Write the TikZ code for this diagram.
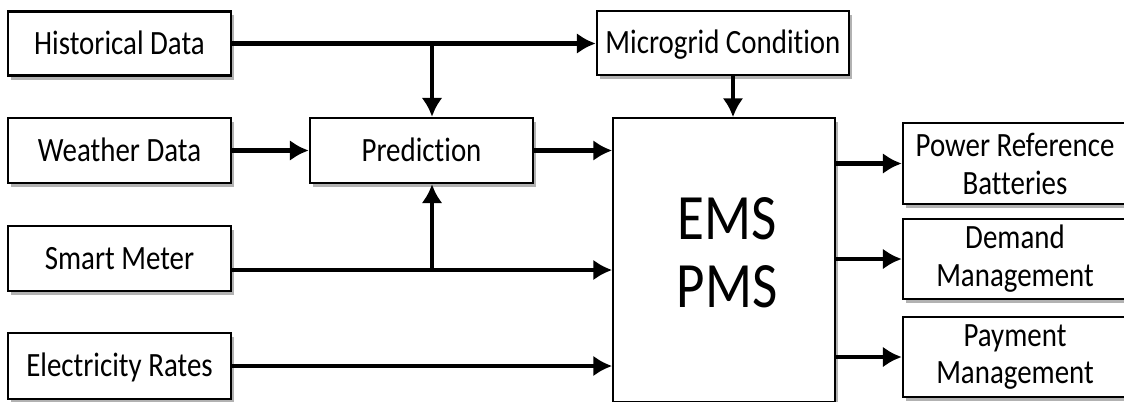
\documentclass[tikz,border=0pt]{standalone}
\usepackage{fontspec}
\setmainfont{Carlito}[FakeStretch=0.85, RawFeature={-liga;-clig;-calt;-dlig}]
\usetikzlibrary{arrows.meta,shadows}
\tikzset{
    blk/.style={draw, line width=1.7pt, fill=white, inner sep=0pt, align=center,
        minimum width=5.575cm, minimum height=1.6cm, font=\fontsize{24.2}{27}\selectfont,
        drop shadow={shadow xshift=0.07cm, shadow yshift=-0.1cm, fill=black, opacity=0.3}},
    oneline/.style={text height=18pt, text depth=2.6pt},
    flow/.style={-{Latex[length=0.47cm, width=0.52cm]}, line width=3.3pt},
}
\begin{document}
\begin{tikzpicture}[x=0.025cm, y=-0.025cm]
        \useasboundingbox (0,0) rectangle (1124,401);
        \fill[white] (0,0) rectangle (1124,401);
        \node[blk, oneline] (hist) at (119.5,43.5) {Historical Data};
        \node[blk, oneline, minimum height=1.625cm] (weather) at (119.5,150.5) {Weather Data};
        \node[blk, oneline, minimum height=1.625cm] (smart) at (119.5,258.5) {Smart Meter};
        \node[blk, oneline, minimum height=1.65cm] (rates) at (119.5,366) {Electricity Rates};
        \node[blk, oneline, minimum height=1.625cm] (pred) at (421.5,150.5) {Prediction};
        \node[blk, oneline, minimum width=6.3cm] (micro) at (723,43) {Microgrid Condition};
        \node[blk, line width=1.2pt, minimum width=5.55cm, minimum height=7.1cm] (ems) at (724,260) {};
        \node[font=\fontsize{46}{48.5}\selectfont, align=center, inner sep=0pt] (emstxt) at (727,253) {EMS\\PMS};
        \node[blk, minimum width=5.6cm, minimum height=2.025cm] (pwr) at (1015,163.5) {Power Reference\\Batteries};
        \node[blk, minimum width=5.6cm, minimum height=2cm] (dem) at (1015,259) {Demand\\Management};
        \node[blk, minimum width=5.6cm, minimum height=2cm] (pay) at (1015,357) {Payment\\Management};
        \coordinate (htap) at (432,43.5);
        \coordinate (stap) at (432,270);
        \coordinate (mtap) at (733,75);
        \draw[flow] (hist.east) -- (hist.east -| micro.west);
        \draw[flow] (htap) -- (htap |- pred.north);
        \draw[flow] (weather.east) -- (pred.west);
        \draw[flow] (pred.east) -- (pred.east -| ems.west);
        \draw[flow] (micro.south -| mtap) -- (ems.north -| mtap);
        \draw[flow] (smart.east |- stap) -- (stap -| ems.west);
        \draw[flow] (stap) -- (stap |- pred.south);
        \draw[flow] (rates.east) -- (rates.east -| ems.west);
        \draw[flow] (ems.east |- pwr.west) -- (pwr.west);
        \draw[flow] (ems.east |- dem.west) -- (dem.west);
        \draw[flow] (ems.east |- pay.west) -- (pay.west);
\end{tikzpicture}
\end{document}
